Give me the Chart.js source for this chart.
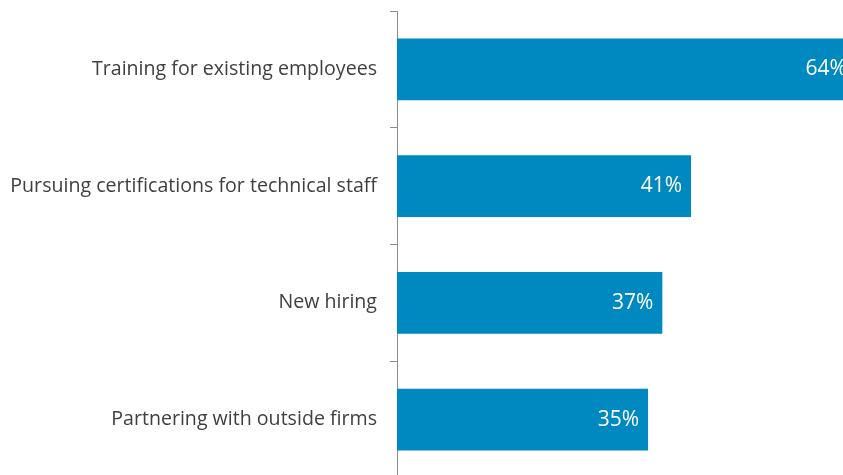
<!DOCTYPE html>
<html>
<head>
<meta charset="utf-8">
<script src="https://cdn.jsdelivr.net/npm/chart.js@4"></script>
<style>
  html, body { margin: 0; padding: 0; overflow: hidden; background: #fff; }
  #wrap { position: absolute; left: 0; top: 0; width: 899px; height: 478px; }
</style>
</head>
<body>
<div id="wrap"><canvas id="myChart"></canvas></div>
<script>
const categories = [
    'Training for existing employees',
    'Pursuing certifications for technical staff',
    'New hiring',
    'Partnering with outside firms'
];
const values = [64, 41, 37, 35];

// white % labels at the inner end of each bar
const barLabels = {
    id: 'barLabels',
    afterDatasetsDraw(chart) {
        const c = chart.ctx;
        const meta = chart.getDatasetMeta(0);
        c.save();
        c.fillStyle = '#ffffff';
        c.font = '21px "Open Sans"';
        c.textAlign = 'right';
        c.textBaseline = 'middle';
        meta.data.forEach(function(bar, i) {
            c.fillText(values[i] + '%', bar.x - 9, bar.y);
        });
        c.restore();
    }
};

let ctx = document.getElementById('myChart');

let myChart = new Chart(ctx, {
    type: 'bar',
    data: {
        labels: categories,
        datasets: [{
            data: values,
            backgroundColor: '#0089c0',
            borderWidth: 0,
            categoryPercentage: 1,
            barPercentage: 0.53
        }]
    },
    options: {
        indexAxis: 'y',
        responsive: true,
        maintainAspectRatio: false,
        animation: false,
        layout: {
            padding: { top: 11, left: 0, right: 0, bottom: 0 }
        },
        plugins: {
            legend: { display: false },
            tooltip: { enabled: false }
        },
        scales: {
            x: {
                display: false,
                min: 0,
                max: 70
            },
            y: {
                afterFit: function(scale) {
                    scale.width = 397;
                    scale.paddingTop = 0;
                    scale.paddingBottom = 0;
                },
                border: { display: true, color: '#8c8c8c', width: 1 },
                grid: {
                    offset: true,
                    drawOnChartArea: false,
                    drawTicks: true,
                    tickLength: 7,
                    color: '#8c8c8c'
                },
                ticks: {
                    padding: 13,
                    color: '#404040',
                    font: { family: 'Open Sans', size: 19.6 }
                }
            }
        }
    },
    plugins: [barLabels]
});
</script>
</body>
</html>
